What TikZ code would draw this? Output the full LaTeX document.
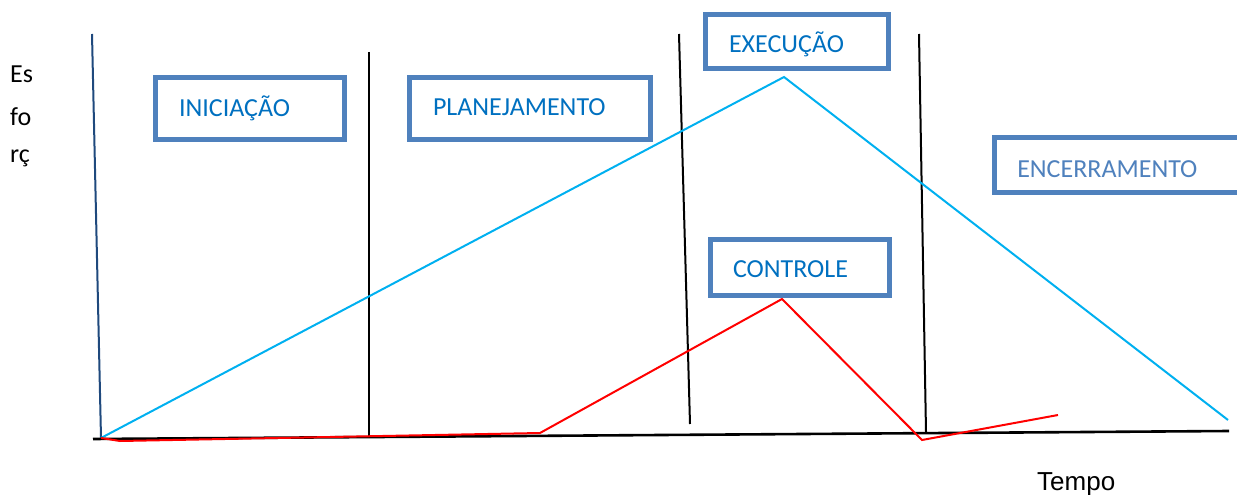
\documentclass[tikz,border=0pt]{standalone}
\usepackage{fontspec}
\setmainfont{Carlito}
\newfontfamily\arialfont{Liberation Sans}
\definecolor{boxline}{HTML}{4F81BD}
\definecolor{boxtext}{HTML}{0070C0}
\definecolor{curvecyan}{HTML}{00B0F0}
\definecolor{axisblue}{HTML}{1F497D}
\begin{document}
\begin{tikzpicture}[x=1pt,y=-1pt,
  phasebox/.style={draw=boxline, line width=5pt, rectangle, inner ysep=0pt,
    align=left, text=boxtext, font=\fontsize{26}{31}\selectfont, text depth=0pt},
  divider/.style={draw=black, line width=2pt},
  axisline/.style={draw=black, line width=2.6pt},
  effort/.style={draw=curvecyan, line width=2pt},
  control/.style={draw=red, line width=2pt, line join=miter},
  lbl/.style={inner sep=0pt, anchor=base west, font=\fontsize{26}{31}\selectfont}]
\useasboundingbox (0,0) rectangle (1237,495);

% axes
\coordinate (ytop) at (92,34);
\coordinate (origin) at (101,438);
\coordinate (xleft) at (93,439);
\coordinate (xright) at (1229,431);
\draw[draw=axisblue, line width=2pt] (ytop) -- (origin);
\draw[axisline] (xleft) -- (xright);

% dividers
\coordinate (d1t) at (369,52);  \coordinate (d1b) at (369,437);
\coordinate (d2t) at (679,34);  \coordinate (d2b) at (690,424);
\coordinate (d3t) at (919,34);  \coordinate (d3b) at (926,432);
\draw[divider] (d1t) -- (d1b);
\draw[divider] (d2t) -- (d2b);
\draw[divider] (d3t) -- (d3b);

% effort curve
\coordinate (epeak) at (784,77);
\coordinate (eend) at (1228,420);
\draw[effort] (origin) -- (epeak) -- (eend);

% control curve
\coordinate (c1) at (120,441);
\coordinate (c2) at (540,433);
\coordinate (cpeak) at (782,299);
\coordinate (cdip) at (922,440);
\coordinate (cend) at (1058,415);
\draw[control] (origin) -- (c1) -- (c2) -- (cpeak) -- (cdip) -- (cend);

% phase boxes
\node[phasebox, minimum width=189pt, minimum height=62pt, text width=142pt,
  inner xsep=23.5pt, text height=15pt] (ini) at (250,108.5) {INICIAÇÃO};
\node[phasebox, minimum width=241pt, minimum height=62pt, text width=194pt,
  inner xsep=23.5pt, text height=14pt] (plan) at (530,108.5) {PLANEJAMENTO};
\node[phasebox, minimum width=183pt, minimum height=54pt, text width=136pt,
  inner xsep=23.5pt, text height=23pt] (exec) at (797,41.5) {EXECUÇÃO};
\node[phasebox, minimum width=179pt, minimum height=56pt, text width=134pt,
  inner xsep=22.5pt, text height=19pt] (ctrl) at (800,267.5) {CONTROLE};
\node[phasebox, minimum width=245.5pt, minimum height=55pt, text width=200pt,
  inner xsep=22.5pt, text height=24pt, text=boxline] (enc) at (1117.25,165) {ENCERRAMENTO};

% axis labels
\node[lbl] (es) at (10,83) {Es};
\node[lbl] (fo) at (10,125) {fo};
\node[lbl] (rc) at (10,162) {rç};
\node[lbl, font=\arialfont\fontsize{26}{31}\selectfont] (tempo) at (1037,490) {Tempo};
\end{tikzpicture}
\end{document}
